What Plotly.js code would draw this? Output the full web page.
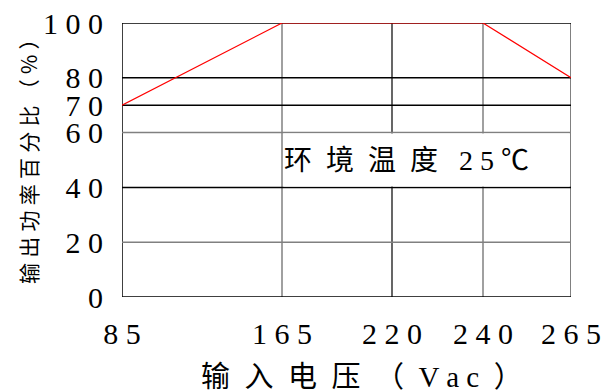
<!DOCTYPE html>
<html><head><meta charset="utf-8">
<script src="https://cdn.plot.ly/plotly-3.0.1.min.js"></script>
<style>html,body{margin:0;padding:0;background:#fff}</style>
</head><body><div id="chart" style="width:605px;height:392px"></div>
<script>
// Data
const voltage = [85, 165, 240, 265];
const outputPct = [70, 100, 100, 80];
const xTickVolts = [85, 165, 220, 240, 265];
const xTickText = ['8 5', '1 6 5', '2 2 0', '2 4 0', '2 6 5'];
const yTickVals = [0, 20, 40, 60, 70, 80, 100];
const yTickText = ['0', '2 0', '4 0', '6 0', '7 0', '8 0', '1 0 0'];
const yTitle = '输\u2005出\u2005功\u2005率\u2005百\u2005分\u2005比\u2005（\u2005%\u2005）';
const xTitle = '输\u2002入\u2002电\u2002压\u2002（\u2002V a c\u2002）';
const noteText = '环\u2002境\u2002温\u2002度\u2002 2 5 ℃';

// Non-uniform axis spacing (layout of the scale)
const xTickPos = [0, 160, 270, 361, 449];
function mapV(v) {
  for (let i = 0; i < xTickVolts.length - 1; i++) {
    const a = xTickVolts[i], b = xTickVolts[i + 1];
    if (v <= b || i === xTickVolts.length - 2) {
      return xTickPos[i] + (v - a) / (b - a) * (xTickPos[i + 1] - xTickPos[i]);
    }
  }
}
const xEnd = xTickPos[xTickPos.length - 1];
const xGridColors = ['#000', '#808080', '#000', '#808080', '#808080'];
const xGridWidths = [1.5, 1.5, 1.2, 1.5, 2];
const yGridColors = ['#000', '#808080', '#000', '#808080', '#000', '#000', '#000'];

const shapes = [];
xTickVolts.forEach((v, i) => shapes.push({type: 'line', layer: 'below', xref: 'x', yref: 'y',
  x0: mapV(v), x1: mapV(v), y0: 0, y1: 100, line: {color: xGridColors[i], width: xGridWidths[i]}}));
yTickVals.forEach((v, i) => shapes.push({type: 'line', layer: 'below', xref: 'x', yref: 'y',
  x0: 0, x1: xEnd, y0: v, y1: v, line: {color: yGridColors[i], width: 1.5}}));

const serif = "'Liberation Serif', 'Noto Sans CJK SC', serif";
const digitFont = {family: serif, size: 30, color: '#000'};

const trace = {
  x: voltage.map(mapV), y: outputPct, type: 'scatter', mode: 'lines',
  line: {color: '#ff0000', width: 1.2}, cliponaxis: false, hoverinfo: 'skip'
};

const layout = {
  width: 605, height: 392,
  margin: {l: 122, r: 34, t: 23, b: 95},
  paper_bgcolor: '#fff', plot_bgcolor: '#fff',
  showlegend: false,
  xaxis: {range: [0, xEnd], tickmode: 'array', tickvals: xTickVolts.map(mapV), ticktext: xTickText,
    showgrid: false, zeroline: false, showline: false, ticks: '', ticklabelstandoff: 16,
    tickfont: digitFont, fixedrange: true},
  yaxis: {range: [0, 100], tickmode: 'array', tickvals: yTickVals, ticktext: yTickText,
    showgrid: false, zeroline: false, showline: false, ticks: '', ticklabelstandoff: 18,
    tickfont: digitFont, fixedrange: true},
  shapes: shapes,
  annotations: [
    {xref: 'paper', yref: 'paper', x: (426.5 - 122) / 449, y: 0.5, xanchor: 'center', yanchor: 'middle',
     text: noteText, showarrow: false, bgcolor: '#fff', width: 285, height: 52, align: 'left',
     borderpad: 0, font: {family: serif, size: 28, color: '#000'}},
    {xref: 'paper', yref: 'paper', x: (362 - 122) / 449, y: (297 - 377) / 274, xanchor: 'center', yanchor: 'middle',
     text: xTitle, showarrow: false, font: {family: serif, size: 29, color: '#000'}},
    {xref: 'paper', yref: 'paper', x: (28 - 122) / 449, y: (297 - 156) / 274, xanchor: 'center', yanchor: 'middle',
     text: yTitle, textangle: -90, showarrow: false,
     font: {family: "'Noto Sans CJK SC', 'Liberation Serif', sans-serif", size: 21, color: '#000'}}
  ]
};
Plotly.newPlot('chart', [trace], layout, {displayModeBar: false, staticPlot: true});
</script></body></html>
